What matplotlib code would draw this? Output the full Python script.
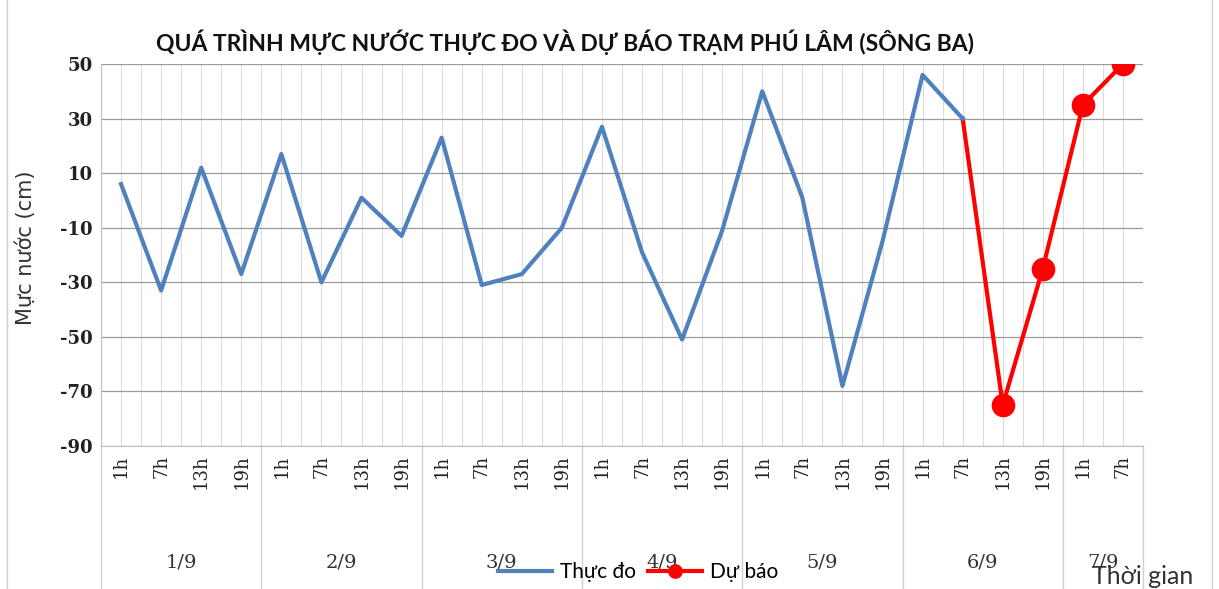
import matplotlib
matplotlib.use("Agg")
import matplotlib.pyplot as plt
import matplotlib.transforms as mtransforms
import numpy as np

# ---------------- data ------------------------------------------------------
DAYS = ["1/9", "2/9", "3/9", "4/9", "5/9", "6/9", "7/9"]
HOURS_PER_DAY = [["1h", "7h", "13h", "19h"]] * 6 + [["1h", "7h"]]
HOUR_LABELS = [h for day in HOURS_PER_DAY for h in day]

OBSERVED = [6, -33, 12, -27,
            17, -30, 1, -13,
            23, -31, -27, -10,
            27, -19, -51, -11,
            40, 1, -68, -15,
            46, 30]
FORECAST = [30, -75, -25, 35, 50]
FORECAST_START = 21  # index of 6/9 7h

Y_TICKS = [50, 30, 10, -10, -30, -50, -70, -90]

BLUE = "#4F81BD"
RED = "#FF0000"

W, H = 1219, 589
fig = plt.figure(figsize=(W / 100, H / 100), dpi=100)
L, R, T, B = 101, 1143, 64, 446
ax = fig.add_axes([L / W, 1 - B / H, (R - L) / W, (B - T) / H])

x_obs = np.arange(len(OBSERVED))
x_fc = np.arange(FORECAST_START, FORECAST_START + len(FORECAST))
ax.plot(x_fc, FORECAST, "-o", color=RED, lw=3, ms=16, markevery=slice(1, None),
        zorder=3, label="Dự báo")
ax.plot(x_obs, OBSERVED, "-", color=BLUE, lw=3, zorder=4, label="Thực đo")

n = len(HOUR_LABELS)
ax.set_xlim(-0.5, n - 0.5)
ax.set_ylim(-90, 50)
ax.set_yticks(Y_TICKS)
ax.set_yticklabels([str(v) for v in Y_TICKS], fontfamily="DejaVu Serif",
                   fontweight="bold", fontsize=13, color="#222222")
ax.tick_params(axis="y", length=0, pad=6)

# vertical grid at every point and every half-step
ax.set_xticks(np.arange(n))
ax.set_xticks(np.arange(-0.5, n, 1.0), minor=True)
ax.set_xticklabels([])
ax.tick_params(axis="x", which="both", length=0)
ax.grid(True, axis="x", which="both", color="#dcdcdc", lw=0.8)
ax.grid(True, axis="y", color="#9a9a9a", lw=0.9)
ax.set_axisbelow(True)

for s in ["top", "right"]:
    ax.spines[s].set_visible(False)
for s in ["left", "bottom"]:
    ax.spines[s].set_color("#bfbfbf")

# hour labels + day labels + separators
trans = mtransforms.blended_transform_factory(ax.transData, ax.transAxes)
for i, lab in enumerate(HOUR_LABELS):
    ax.text(i, -0.022, lab, transform=trans, rotation=90, ha="center", va="top",
            fontfamily="DejaVu Serif", fontsize=13, color="#222222")

start = 0
bottom_axes = -(H - B) / (B - T)
for day, hours in zip(DAYS, HOURS_PER_DAY):
    end = start + len(hours)
    ax.text((start + end - 1) / 2, -0.306, day, transform=trans, ha="center",
            va="center", fontfamily="DejaVu Serif", fontsize=14, color="#333333")
    ax.plot([end - 0.5, end - 0.5], [0, bottom_axes], transform=trans,
            color="#d0d0d0", lw=1, clip_on=False)
    start = end
ax.plot([-0.5, -0.5], [0, bottom_axes], transform=trans, color="#d0d0d0",
        lw=1, clip_on=False)

ax.set_ylabel("Mực nước (cm)", fontfamily="DejaVu Sans", fontsize=15,
              color="#333333")
ax.yaxis.set_label_coords(-(L - 36) / (R - L), 0.52)

fig.text(565 / W, 1 - 42 / H,
         "QUÁ TRÌNH MỰC NƯỚC THỰC ĐO VÀ DỰ BÁO TRẠM PHÚ LÂM (SÔNG BA)",
         ha="center", va="center", fontfamily="Lato", fontweight="bold",
         fontsize=16.5, color="#111111")

handles, labels = ax.get_legend_handles_labels()
leg = fig.legend(handles[::-1], labels[::-1], loc="center",
                 bbox_to_anchor=(638 / W, 1 - 572 / H), ncol=2, frameon=False,
                 handlelength=2.6, columnspacing=0.6, handletextpad=0.35,
                 markerscale=0.6, borderpad=0, prop={"family": "Lato", "size": 15})

fig.text(1143 / W, 1 - 577 / H, "Thời gian", ha="center", va="center",
         fontfamily="Lato", fontsize=18, color="#333333")

# outer chart frame
fig.add_artist(plt.Line2D([7 / W, 7 / W], [0, 1], color="#d0d0d0", lw=1))
fig.add_artist(plt.Line2D([1212 / W, 1212 / W], [0, 1], color="#d0d0d0", lw=1))

fig.savefig("out.png", dpi=100)
